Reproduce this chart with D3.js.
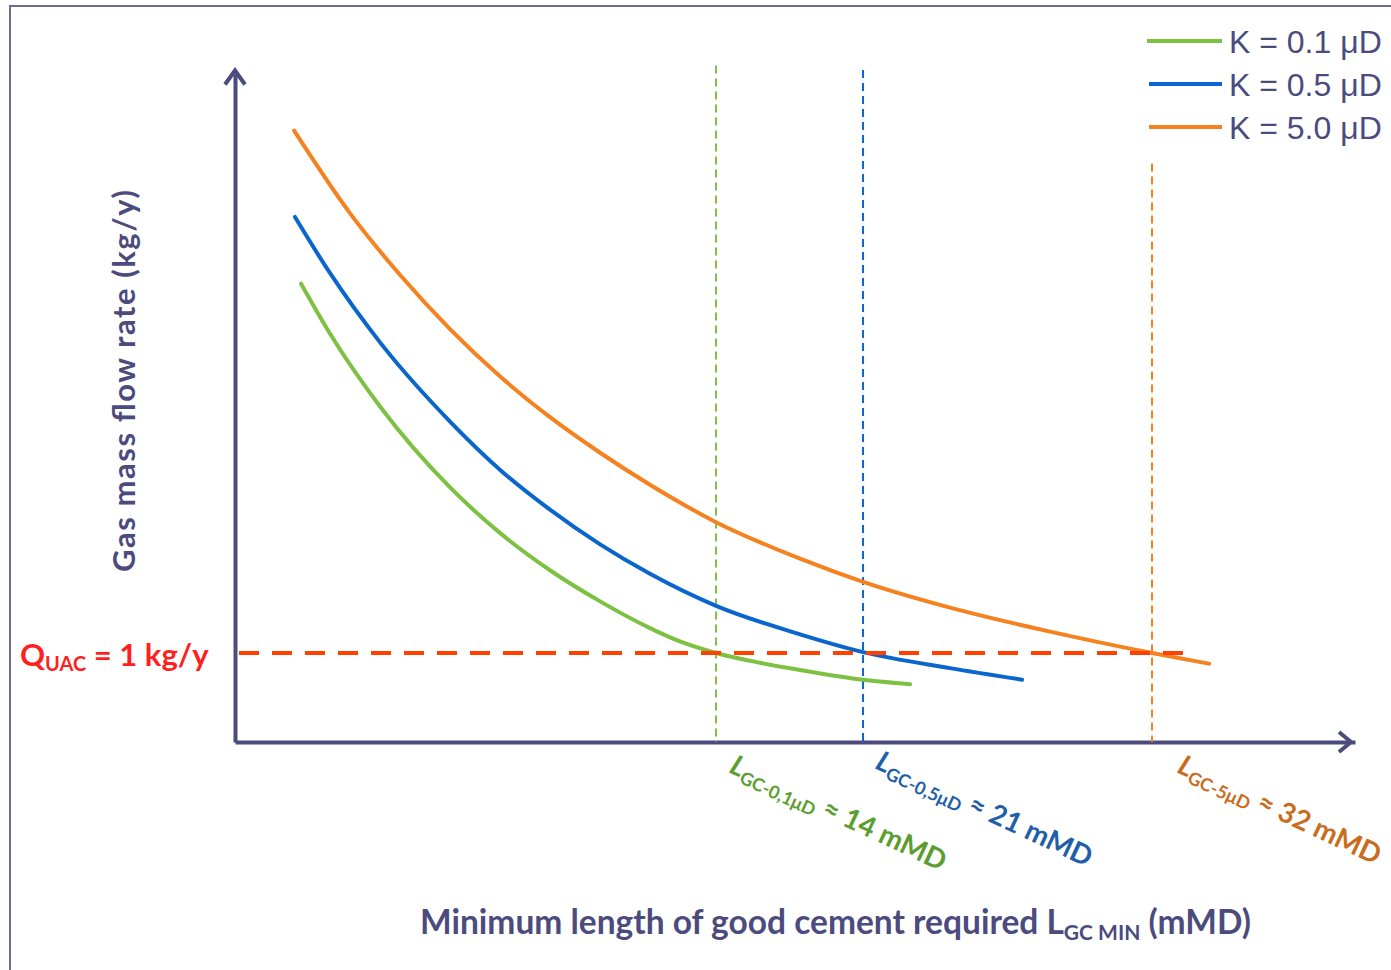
<!DOCTYPE html>
<html>
<head>
<meta charset="utf-8">
<script src="https://cdn.jsdelivr.net/npm/d3@7/dist/d3.min.js"></script>
<style>
  body { margin: 0; background: #fff; }
  svg { display: block; }
</style>
</head>
<body>
<div id="chart"></div>
<script>
// data (x in schematic mMD units, y in kg/y)
const seriesNames = ['K = 0.1 μD', 'K = 0.5 μD', 'K = 5.0 μD'];
const seriesColours = ['#7dc142', '#0a66cc', '#f5821f'];

const greenX = [2.36, 3.39, 5.18, 7.68, 9.46, 11.25, 13.04, 14.82, 15.89, 17.18, 18.75, 20.18, 22.43, 24.11];
const greenY = [5.15, 4.59, 3.77, 2.86, 2.35, 1.93, 1.58, 1.28, 1.13, 1.00, 0.89, 0.81, 0.70, 0.65];

const blueX = [2.14, 3.39, 5.18, 7.68, 9.46, 11.25, 13.04, 14.82, 17.18, 20.18, 22.43, 25.54, 28.11];
const blueY = [5.90, 5.27, 4.49, 3.60, 3.06, 2.61, 2.22, 1.89, 1.53, 1.21, 1.01, 0.83, 0.70];

const orangeX = [2.11, 4.11, 5.89, 7.68, 9.46, 11.25, 13.04, 14.82, 17.18, 20.18, 22.43, 25.54, 29.11, 32.75, 34.79];
const orangeY = [6.87, 5.94, 5.25, 4.64, 4.11, 3.65, 3.25, 2.89, 2.47, 2.06, 1.80, 1.51, 1.24, 1.00, 0.88];

// critical lengths (where each curve crosses Q = 1 kg/y)
const critX = [17.18, 22.43, 32.75];
const critTop = [7.6, 7.55, 6.5];
const critSub = ['GC-0,1μD', 'GC-0,5μD', 'GC-5μD'];
const critValue = ['≈ 14 mMD', '≈ 21 mMD', '≈ 32 mMD'];
const critColours = ['#5b9e2f', '#1f5faa', '#c86d1e'];

const qLimit = 1;
const qLimitEnd = 33.86;

const width = 1391, height = 970;
const axisColour = '#4b4b7e';

const svg = d3.select('#chart').append('svg')
  .attr('width', width)
  .attr('height', height);

// frame
svg.append('rect')
  .attr('x', 10).attr('y', 6)
  .attr('width', width).attr('height', height)
  .attr('fill', 'none')
  .attr('stroke', '#6b6b96')
  .attr('stroke-width', 2);

const x = d3.scaleLinear().domain([0, 40]).range([235, 1355]);
const y = d3.scaleLinear().domain([0, 7.5]).range([742, 74.5]);

// axes, no ticks
const xAxis = svg.append('g')
  .attr('transform', 'translate(0,' + y(0) + ')')
  .call(d3.axisBottom(x).ticks(0).tickSizeOuter(0));
const yAxis = svg.append('g')
  .attr('transform', 'translate(' + x(0) + ',0)')
  .call(d3.axisLeft(y).ticks(0).tickSizeOuter(0));
[xAxis, yAxis].forEach(a => a.select('.domain')
  .attr('stroke', axisColour)
  .attr('stroke-width', 4));

// arrow heads
svg.append('path')
  .attr('d', 'M' + (x(40) - 16) + ',' + (y(0) - 10) + 'L' + (x(40) - 4) + ',' + y(0) + 'L' + (x(40) - 16) + ',' + (y(0) + 10))
  .attr('fill', 'none').attr('stroke', axisColour).attr('stroke-width', 4);
svg.append('path')
  .attr('d', 'M' + (x(0) - 10) + ',' + (y(7.5) + 10) + 'L' + x(0) + ',' + (y(7.5) - 4) + 'L' + (x(0) + 10) + ',' + (y(7.5) + 10))
  .attr('fill', 'none').attr('stroke', axisColour).attr('stroke-width', 4);
svg.append('line')
  .attr('x1', x(0)).attr('x2', x(0))
  .attr('y1', y(7.5)).attr('y2', y(7.5) - 4)
  .attr('stroke', axisColour).attr('stroke-width', 4);

// vertical dashed lines
critX.forEach((cx, i) => {
  svg.append('line')
    .attr('x1', x(cx)).attr('x2', x(cx))
    .attr('y1', y(critTop[i])).attr('y2', y(0))
    .attr('stroke', seriesColours[i])
    .attr('stroke-width', 2)
    .attr('stroke-dasharray', '8,5');
});

// curves
const line = d3.line()
  .x(d => x(d[0]))
  .y(d => y(d[1]))
  .curve(d3.curveMonotoneX);

const seriesData = [
  greenX.map((v, i) => [v, greenY[i]]),
  blueX.map((v, i) => [v, blueY[i]]),
  orangeX.map((v, i) => [v, orangeY[i]])
];

seriesData.forEach((d, i) => {
  svg.append('path')
    .datum(d)
    .attr('d', line)
    .attr('fill', 'none')
    .attr('stroke', seriesColours[i])
    .attr('stroke-width', 4)
    .attr('stroke-linecap', 'round');
});

// Q limit line
svg.append('line')
  .attr('x1', x(0) + 4).attr('x2', x(qLimitEnd))
  .attr('y1', y(qLimit)).attr('y2', y(qLimit))
  .attr('stroke', '#ff4000')
  .attr('stroke-width', 4)
  .attr('stroke-dasharray', '20,13');

// Q label
const qText = svg.append('text')
  .attr('x', 20).attr('y', y(qLimit) + 13)
  .attr('fill', '#ff1f1f')
  .attr('font-family', 'Lato, sans-serif')
  .attr('font-weight', 'bold')
  .attr('font-size', 31);
qText.append('tspan').text('Q');
qText.append('tspan').attr('font-size', 20).attr('dy', 5).text('UAC');
qText.append('tspan').attr('dy', -5).text(' = 1 kg/y');

// legend
seriesNames.forEach((name, i) => {
  const ly = 41 + i * 43;
  svg.append('line')
    .attr('x1', 1147 + (i ? 2 : 0)).attr('x2', 1222)
    .attr('y1', ly).attr('y2', ly)
    .attr('stroke', seriesColours[i])
    .attr('stroke-width', 4);
  svg.append('text')
    .attr('x', 1229).attr('y', ly + 12)
    .attr('fill', axisColour)
    .attr('font-family', 'Liberation Sans, Arial, sans-serif')
    .attr('font-size', 32)
    .text(name);
});

// rotated critical-length labels
const labelPos = [[728, 772], [874, 768], [1176, 772]];
critX.forEach((cx, i) => {
  const t = svg.append('text')
    .attr('transform', 'translate(' + labelPos[i][0] + ',' + labelPos[i][1] + ') rotate(25)')
    .attr('fill', critColours[i])
    .attr('font-family', 'Lato, sans-serif')
    .attr('font-weight', 'bold');
  t.append('tspan').attr('font-size', 28).attr('font-style', 'italic').text('L');
  t.append('tspan').attr('font-size', 18).attr('dy', 5).text(critSub[i]);
  t.append('tspan').attr('font-size', 28).attr('dy', -5).text(' ' + critValue[i]);
});

// axis titles
const xt = svg.append('text')
  .attr('x', 420).attr('y', 934)
  .attr('fill', axisColour)
  .attr('font-family', 'Lato, sans-serif')
  .attr('font-weight', 'bold')
  .attr('font-size', 33.5);
xt.append('tspan').text('Minimum length of good cement required L');
xt.append('tspan').attr('font-size', 21).attr('dy', 6).text('GC MIN');
xt.append('tspan').attr('dy', -6).text(' (mMD)');

svg.append('text')
  .attr('transform', 'translate(135,381) rotate(-90)')
  .attr('text-anchor', 'middle')
  .attr('fill', axisColour)
  .attr('font-family', 'Lato, sans-serif')
  .attr('font-weight', 'bold')
  .attr('font-size', 31)
  .attr('textLength', 382)
  .attr('lengthAdjust', 'spacing')
  .text('Gas mass flow rate (kg/y)');
</script>
</body>
</html>
